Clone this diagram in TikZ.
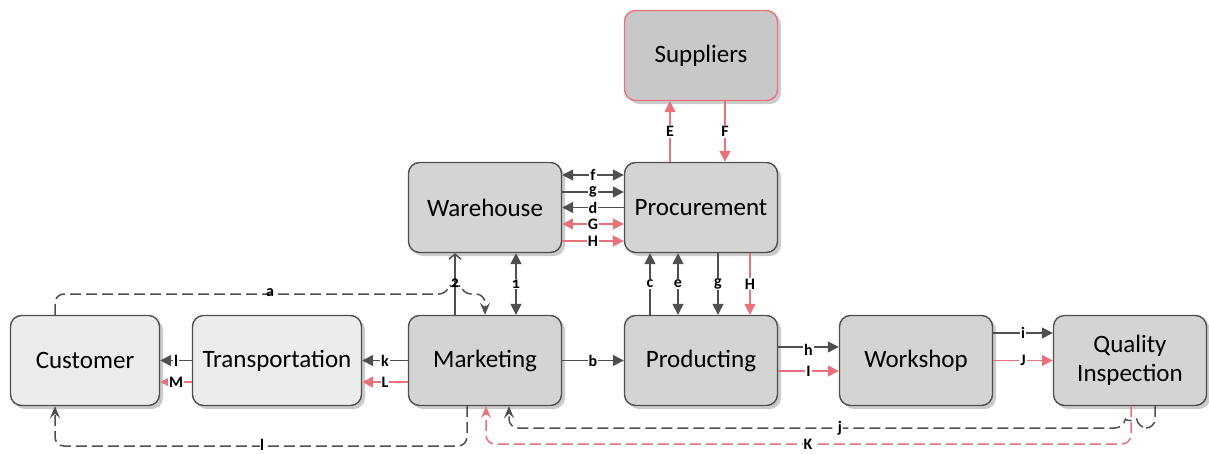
\documentclass[tikz,border=0pt]{standalone}
\usepackage{fontspec}
\setmainfont{Carlito}
\usetikzlibrary{arrows.meta,shadows}
\definecolor{ln}{HTML}{4F4F4F}
\definecolor{rd}{HTML}{E8727C}
\definecolor{boxdark}{HTML}{D4D4D4}
\definecolor{boxlight}{HTML}{ECECEC}
\definecolor{boxsup}{HTML}{C8C8C8}
\begin{document}
\begin{tikzpicture}[x=1pt,y=-1pt,
  box/.style={draw=ln, line width=1.4pt, rounded corners=11pt,
    minimum width=153pt, minimum height=90pt, fill=boxdark,
    drop shadow={shadow xshift=3.5pt,shadow yshift=-3.5pt,opacity=0.45,fill=black!45},
    font=\fontsize{25}{29}\selectfont, align=center, inner sep=0pt},
  lightbox/.style={box, fill=boxlight},
  tipA/.tip={Triangle[length=11pt,width=11pt]},
  tipD/.tip={Stealth[length=12pt,width=10pt,inset=4.5pt]},
  conn/.style={draw=ln, line width=1.5pt},
  ar/.style={conn, -tipA},
  dar/.style={conn, tipA-tipA},
  rar/.style={ar, draw=rd},
  rdar/.style={dar, draw=rd},
  dsh/.style={conn, dash pattern=on 11pt off 5pt, rounded corners=9pt, -tipD},
  rdsh/.style={dsh, draw=rd},
  lbl/.style={fill=white, inner sep=1pt, font=\bfseries\fontsize{16}{16}\selectfont, text=black},
  onum/.style={lbl, font=\bfseries\fontsize{16}{16}\selectfont\addfontfeatures{Numbers=OldStyle}}
]
\useasboundingbox (0,0) rectangle (1209,453);

% nodes
\node[box, draw=rd, fill=boxsup] (Sup) at (701,55.5) {Suppliers};
\node[box] (Ware) at (485,207.5) {Warehouse};
\node[box] (Proc) at (701,207.5) {Procurement};
\node[lightbox, minimum width=149pt] (Cust) at (85,360.5) {Customer};
\node[lightbox, minimum width=169pt] (Trans) at (277,360.5) {Transportation};
\node[box] (Mark) at (485,360.5) {Marketing};
\node[box] (Prod) at (701,360.5) {Producting};
\node[box] (Work) at (916,360.5) {Workshop};
\node[box] (QI) at (1130,360.5) {Quality\\Inspection};

% Warehouse <-> Procurement
\draw[dar] ([yshift=32.5pt]Ware.east) -- node[lbl]{f} ([yshift=32.5pt]Proc.west);
\draw[ar] ([yshift=15.5pt]Ware.east) -- node[lbl]{g} ([yshift=15.5pt]Proc.west);
\draw[ar] ([yshift=0pt]Proc.west) -- node[lbl]{d} ([yshift=0pt]Ware.east);
\draw[rdar] ([yshift=-16.5pt]Ware.east) -- node[lbl]{G} ([yshift=-16.5pt]Proc.west);
\draw[rar] ([yshift=-33.5pt]Ware.east) -- node[lbl]{H} ([yshift=-33.5pt]Proc.west);

% Procurement <-> Suppliers
\draw[rar] ([xshift=-31pt]Proc.north) -- node[lbl]{E} ([xshift=-31pt]Sup.south);
\draw[rar] ([xshift=24pt]Sup.south) -- node[lbl]{F} ([xshift=24pt]Proc.north);

% Procurement <-> Producting
\draw[ar] ([xshift=-51pt]Prod.north) -- node[lbl]{c} ([xshift=-51pt]Proc.south);
\draw[dar] ([xshift=-23pt]Proc.south) -- node[lbl]{e} ([xshift=-23pt]Prod.north);
\draw[ar] ([xshift=17pt]Proc.south) -- node[lbl]{g} ([xshift=17pt]Prod.north);
\draw[rar] ([xshift=49pt]Proc.south) -- node[lbl]{H} ([xshift=49pt]Prod.north);

% Warehouse <-> Marketing
\draw[conn, -{Straight Barb[length=5pt,width=12pt]}] ([xshift=-30pt]Mark.north) -- ([xshift=-30pt]Ware.south);
\draw[dar] ([xshift=31pt]Ware.south) -- node[onum]{1} ([xshift=31pt]Mark.north);

% a (dashed, hops over the "2" line)
\draw[dsh] ([xshift=-30pt]Cust.north) -- (55,294) -- (448,294)
  .. controls (449,287) and (461,287) .. (462,294) -- (485,294) -- (Mark.north);
\node[lbl, fill=none] (la) at (270,293) {a};
\node[onum, fill=none, inner sep=0pt] (l2) at (455,283) {2};

% Marketing -> Producting, etc.
\draw[ar] (Mark.east) -- node[lbl]{b} (Prod.west);
\draw[ar] (Mark.west) -- node[lbl]{k} (Trans.east);
\draw[rar] ([yshift=-21.5pt]Mark.west) -- node[lbl]{L} ([yshift=-21.5pt]Trans.east);
\draw[ar] (Trans.west) -- node[lbl]{l} (Cust.east);
\draw[rar] ([yshift=-21.5pt]Trans.west) -- node[lbl]{M} ([yshift=-21.5pt]Cust.east);
\draw[ar] ([yshift=13.5pt]Prod.east) -- node[lbl, yshift=-3pt]{h} ([yshift=13.5pt]Work.west);
\draw[rar] ([yshift=-10.5pt]Prod.east) -- node[lbl]{I} ([yshift=-10.5pt]Work.west);
\draw[ar] ([yshift=27.5pt]Work.east) -- node[lbl]{i} ([yshift=27.5pt]QI.west);
\draw[rar] (Work.east) -- node[lbl]{J} (QI.west);

% l dashed (Marketing -> Customer)
\draw[dsh] ([xshift=-18pt]Mark.south) -- (467,446) -- (55,446) -- ([xshift=-30pt]Cust.south);
\node[lbl, inner sep=0.5pt] (ll) at (262,445) {l};

% K red dashed (QI -> Marketing)
\draw[rdsh] ([xshift=1pt]QI.south) -- (1131,444) -- (486,444) -- ([xshift=1pt]Mark.south);
\node[lbl] (lK) at (808,444) {K};

% j dashed (QI -> Marketing), hops over K
\draw[dsh] ([xshift=25pt]QI.south) -- (1155,428) -- (1138,428)
  .. controls (1137,421) and (1125,421) .. (1124,428) -- (509,428) -- ([xshift=24pt]Mark.south);
\node[lbl] (lj) at (840,428) {j};
\end{tikzpicture}
\end{document}
